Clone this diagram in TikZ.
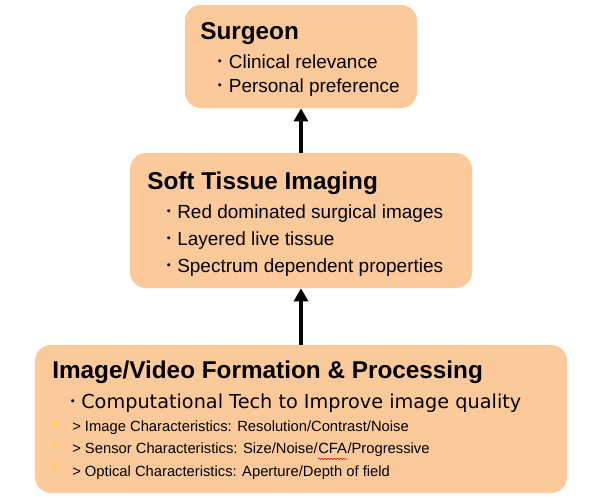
\documentclass[tikz,border=0pt]{standalone}
\usepackage{fontspec}
\setmainfont{Liberation Sans}
\newfontfamily\cjk{Noto Sans CJK JP}
\newfontfamily\dejavu{DejaVu Sans}
\usetikzlibrary{arrows.meta, positioning, decorations.pathmorphing}
\definecolor{peach}{RGB}{252,202,154}
\definecolor{crossyellow}{RGB}{255,208,80}
\newcommand{\dotbullet}{{\cjk ･}\hspace{2.5pt}}

\begin{document}
\begin{tikzpicture}[
        box/.style={fill=peach, rounded corners=0.4cm, inner sep=0pt},
        title/.style={anchor=base west, inner sep=0pt, font=\fontsize{17.3}{20}\selectfont\bfseries},
        item/.style={anchor=base west, inner sep=0pt, font=\fontsize{13.5}{16}\selectfont},
        subitem/.style={anchor=base west, inner sep=0pt, font=\fontsize{10.5}{12}\selectfont},
        xmark/.style={inner sep=0pt, text=crossyellow, font=\dejavu\fontsize{10}{11}\selectfont},
        arrow/.style={-{Triangle[width=0.35cm, length=0.33cm]}, line width=0.1cm}
    ]
    \useasboundingbox (0,0) rectangle (15,-12.525);

    % Boxes
    \node[box, minimum width=5.8cm, minimum height=2.575cm] (surgeon) at (7.525, -1.4125) {};
    \node[box, minimum width=8.55cm, minimum height=3.375cm] (tissue) at (7.525, -5.5125) {};
    \node[box, minimum width=13.3cm, minimum height=3.7cm] (formation) at (7.525, -10.475) {};

    % Arrows between boxes
    \draw[arrow] (formation.north) -- (tissue.south);
    \draw[arrow] (tissue.north) -- (surgeon.south);

    % Surgeon
    \node[title] (surgeonT) at (5.0, -0.975) {Surgeon};
    \node[item] (clinical) at (5.39, -1.7) {\dotbullet Clinical relevance};
    \node[item] (personal) at (5.39, -2.3125) {\dotbullet Personal preference};

    % Soft tissue imaging
    \node[title] (tissueT) at (3.675, -4.725) {Soft Tissue Imaging};
    \node[item] (red) at (4.1, -5.45) {\dotbullet Red dominated surgical images};
    \node[item] (layered) at (4.1, -6.125) {\dotbullet Layered live tissue};
    \node[item] (spectrum) at (4.1, -6.8) {\dotbullet Spectrum dependent properties};

    % Image/Video formation
    \node[title] (formationT) at (1.3, -9.45) {Image/Video Formation \& Processing};
    \node[item] (comp) at (1.7, -10.2) {\dotbullet{\dejavu\fontsize{13.7}{16}\selectfont Computational Tech to Improve image quality}};
    \node[subitem] (imagech) at (1.8, -10.775) {> Image Characteristics: Resolution/Contrast/Noise};
    \node[subitem] (sensor) at (1.8, -11.3375) {> Sensor Characteristics: Size/Noise/};
    \node[subitem] (cfa) at (sensor.base east) {CFA};
    \node[subitem] (progressive) at (cfa.base east) {/Progressive};
    \node[subitem] (optical) at (1.8, -11.9) {> Optical Characteristics: Aperture/Depth of field};
    \draw[red, line width=0.4pt, decorate, decoration={snake, amplitude=0.5pt, segment length=2.2pt}]
        ([yshift=-3.5pt]cfa.south west) -- ([yshift=-3.5pt]cfa.south east);

    % Crosses
    \foreach \y in {-10.575, -11.125, -11.675}
        \node[xmark] at (1.375, \y) {×};

\end{tikzpicture}
\end{document}
